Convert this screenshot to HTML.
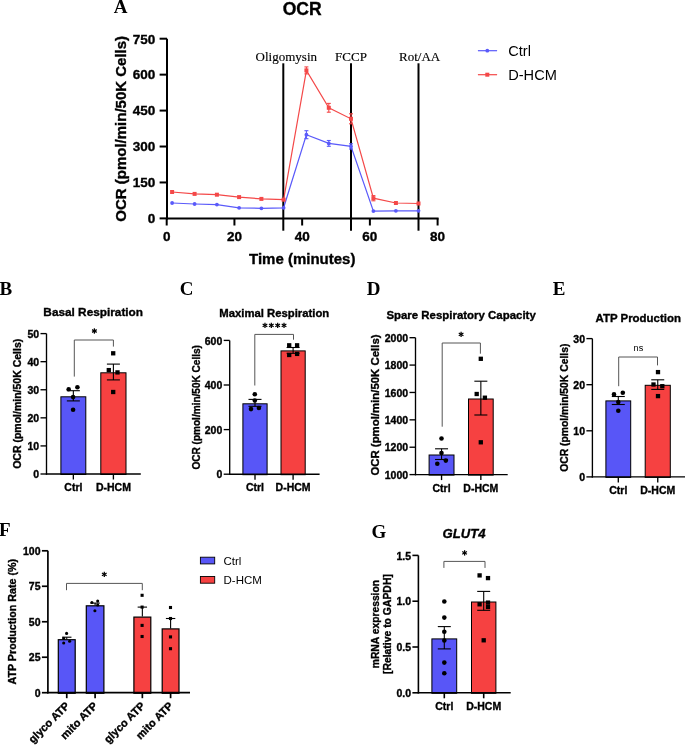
<!DOCTYPE html>
<html><head><meta charset="utf-8"><style>
html,body{margin:0;padding:0;background:#fff;}
body{width:685px;height:746px;overflow:hidden;}
svg{display:block;will-change:transform;}
</style></head><body>
<svg width="685" height="746" viewBox="0 0 685 746">
<rect width="685" height="746" fill="#fff"/>
<line x1="167" y1="38.7" x2="167" y2="219.4" stroke="#000" stroke-width="2"/>
<line x1="166" y1="218.4" x2="438.6" y2="218.4" stroke="#000" stroke-width="2"/>
<line x1="159.6" y1="218.4" x2="167" y2="218.4" stroke="#000" stroke-width="2"/>
<text x="155.2" y="223.2" text-anchor="end" style='font-family:"Liberation Sans", sans-serif;font-size:13.5px;font-weight:bold;font-style:normal;stroke:#000;stroke-width:0.35px'>0</text>
<line x1="159.6" y1="182.46" x2="167" y2="182.46" stroke="#000" stroke-width="2"/>
<text x="155.2" y="187.26" text-anchor="end" style='font-family:"Liberation Sans", sans-serif;font-size:13.5px;font-weight:bold;font-style:normal;stroke:#000;stroke-width:0.35px'>150</text>
<line x1="159.6" y1="146.52" x2="167" y2="146.52" stroke="#000" stroke-width="2"/>
<text x="155.2" y="151.32" text-anchor="end" style='font-family:"Liberation Sans", sans-serif;font-size:13.5px;font-weight:bold;font-style:normal;stroke:#000;stroke-width:0.35px'>300</text>
<line x1="159.6" y1="110.58" x2="167" y2="110.58" stroke="#000" stroke-width="2"/>
<text x="155.2" y="115.38" text-anchor="end" style='font-family:"Liberation Sans", sans-serif;font-size:13.5px;font-weight:bold;font-style:normal;stroke:#000;stroke-width:0.35px'>450</text>
<line x1="159.6" y1="74.64" x2="167" y2="74.64" stroke="#000" stroke-width="2"/>
<text x="155.2" y="79.44" text-anchor="end" style='font-family:"Liberation Sans", sans-serif;font-size:13.5px;font-weight:bold;font-style:normal;stroke:#000;stroke-width:0.35px'>600</text>
<line x1="159.6" y1="38.7" x2="167" y2="38.7" stroke="#000" stroke-width="2"/>
<text x="155.2" y="43.5" text-anchor="end" style='font-family:"Liberation Sans", sans-serif;font-size:13.5px;font-weight:bold;font-style:normal;stroke:#000;stroke-width:0.35px'>750</text>
<line x1="166.7" y1="218.4" x2="166.7" y2="225.5" stroke="#000" stroke-width="2"/>
<text x="166.7" y="241" text-anchor="middle" style='font-family:"Liberation Sans", sans-serif;font-size:13.5px;font-weight:bold;font-style:normal;stroke:#000;stroke-width:0.35px'>0</text>
<line x1="234.43" y1="218.4" x2="234.43" y2="225.5" stroke="#000" stroke-width="2"/>
<text x="234.43" y="241" text-anchor="middle" style='font-family:"Liberation Sans", sans-serif;font-size:13.5px;font-weight:bold;font-style:normal;stroke:#000;stroke-width:0.35px'>20</text>
<line x1="302.15" y1="218.4" x2="302.15" y2="225.5" stroke="#000" stroke-width="2"/>
<text x="302.15" y="241" text-anchor="middle" style='font-family:"Liberation Sans", sans-serif;font-size:13.5px;font-weight:bold;font-style:normal;stroke:#000;stroke-width:0.35px'>40</text>
<line x1="369.88" y1="218.4" x2="369.88" y2="225.5" stroke="#000" stroke-width="2"/>
<text x="369.88" y="241" text-anchor="middle" style='font-family:"Liberation Sans", sans-serif;font-size:13.5px;font-weight:bold;font-style:normal;stroke:#000;stroke-width:0.35px'>60</text>
<line x1="437.6" y1="218.4" x2="437.6" y2="225.5" stroke="#000" stroke-width="2"/>
<text x="437.6" y="241" text-anchor="middle" style='font-family:"Liberation Sans", sans-serif;font-size:13.5px;font-weight:bold;font-style:normal;stroke:#000;stroke-width:0.35px'>80</text>
<line x1="283.3" y1="63.3" x2="283.3" y2="230.7" stroke="#000" stroke-width="2"/>
<line x1="351" y1="63.3" x2="351" y2="230.7" stroke="#000" stroke-width="2"/>
<line x1="418.5" y1="63.3" x2="418.5" y2="230.7" stroke="#000" stroke-width="2"/>
<text x="286.3" y="61.2" text-anchor="middle" style='font-family:"Liberation Serif", serif;font-size:13px;font-weight:normal;font-style:normal;stroke:#000;stroke-width:0.15px'>Oligomysin</text>
<text x="351" y="61.2" text-anchor="middle" style='font-family:"Liberation Serif", serif;font-size:13px;font-weight:normal;font-style:normal;stroke:#000;stroke-width:0.15px'>FCCP</text>
<text x="419.6" y="61.2" text-anchor="middle" style='font-family:"Liberation Serif", serif;font-size:13px;font-weight:normal;font-style:normal;stroke:#000;stroke-width:0.15px'>Rot/AA</text>
<text x="302.2" y="15" text-anchor="middle" style='font-family:"Liberation Sans", sans-serif;font-size:17.5px;font-weight:bold;font-style:normal;stroke:#000;stroke-width:0.35px'>OCR</text>
<text x="302.2" y="263.6" text-anchor="middle" style='font-family:"Liberation Sans", sans-serif;font-size:15px;font-weight:bold;font-style:normal;stroke:#000;stroke-width:0.35px'>Time (minutes)</text>
<text transform="translate(126.2,128.85) rotate(-90)" text-anchor="middle" style='font-family:"Liberation Sans", sans-serif;font-size:15px;font-weight:bold;font-style:normal;stroke:#000;stroke-width:0.35px'>OCR (pmol/min/50K Cells)</text>
<text x="113.8" y="12.8" text-anchor="start" style='font-family:"Liberation Serif", serif;font-size:19px;font-weight:bold;font-style:normal'>A</text>
<polyline points="172.1,192 194.6,193.9 216.9,194.7 239.1,197.1 261.4,198.9 283.6,199.7 306.4,70.4 328.8,107.8 351,118.8 373.4,198.2 395.9,203 418.5,203.5" fill="none" stroke="#F44848" stroke-width="1.2"/>
<polyline points="172.1,203 194.6,204 216.9,204.6 239.1,207.8 261.4,208.3 283.6,207.8 306.4,134.7 328.8,143.4 351,146.4 373.4,211.1 395.9,210.8 418.5,210.8" fill="none" stroke="#5A5AFA" stroke-width="1.2"/>
<rect x="170.1" y="190" width="4" height="4" fill="#F44848"/>
<rect x="192.6" y="191.9" width="4" height="4" fill="#F44848"/>
<rect x="214.9" y="192.7" width="4" height="4" fill="#F44848"/>
<rect x="237.1" y="195.1" width="4" height="4" fill="#F44848"/>
<rect x="259.4" y="196.9" width="4" height="4" fill="#F44848"/>
<rect x="281.6" y="197.7" width="4" height="4" fill="#F44848"/>
<line x1="306.4" y1="66.9" x2="306.4" y2="73.9" stroke="#F44848" stroke-width="1.1"/>
<line x1="304.4" y1="66.9" x2="308.4" y2="66.9" stroke="#F44848" stroke-width="1.1"/>
<line x1="304.4" y1="73.9" x2="308.4" y2="73.9" stroke="#F44848" stroke-width="1.1"/>
<rect x="304.4" y="68.4" width="4" height="4" fill="#F44848"/>
<line x1="328.8" y1="103.4" x2="328.8" y2="112.2" stroke="#F44848" stroke-width="1.1"/>
<line x1="326.8" y1="103.4" x2="330.8" y2="103.4" stroke="#F44848" stroke-width="1.1"/>
<line x1="326.8" y1="112.2" x2="330.8" y2="112.2" stroke="#F44848" stroke-width="1.1"/>
<rect x="326.8" y="105.8" width="4" height="4" fill="#F44848"/>
<line x1="351" y1="113.8" x2="351" y2="123.8" stroke="#F44848" stroke-width="1.1"/>
<line x1="349" y1="113.8" x2="353" y2="113.8" stroke="#F44848" stroke-width="1.1"/>
<line x1="349" y1="123.8" x2="353" y2="123.8" stroke="#F44848" stroke-width="1.1"/>
<rect x="349" y="116.8" width="4" height="4" fill="#F44848"/>
<line x1="373.4" y1="195.6" x2="373.4" y2="200.8" stroke="#F44848" stroke-width="1.1"/>
<line x1="371.4" y1="195.6" x2="375.4" y2="195.6" stroke="#F44848" stroke-width="1.1"/>
<line x1="371.4" y1="200.8" x2="375.4" y2="200.8" stroke="#F44848" stroke-width="1.1"/>
<rect x="371.4" y="196.2" width="4" height="4" fill="#F44848"/>
<rect x="393.9" y="201" width="4" height="4" fill="#F44848"/>
<rect x="416.5" y="201.5" width="4" height="4" fill="#F44848"/>
<circle cx="172.1" cy="203" r="1.9" fill="#5A5AFA"/>
<circle cx="194.6" cy="204" r="1.9" fill="#5A5AFA"/>
<circle cx="216.9" cy="204.6" r="1.9" fill="#5A5AFA"/>
<circle cx="239.1" cy="207.8" r="1.9" fill="#5A5AFA"/>
<circle cx="261.4" cy="208.3" r="1.9" fill="#5A5AFA"/>
<circle cx="283.6" cy="207.8" r="1.9" fill="#5A5AFA"/>
<line x1="306.4" y1="130.7" x2="306.4" y2="138.7" stroke="#5A5AFA" stroke-width="1.1"/>
<line x1="304.4" y1="130.7" x2="308.4" y2="130.7" stroke="#5A5AFA" stroke-width="1.1"/>
<line x1="304.4" y1="138.7" x2="308.4" y2="138.7" stroke="#5A5AFA" stroke-width="1.1"/>
<circle cx="306.4" cy="134.7" r="1.9" fill="#5A5AFA"/>
<line x1="328.8" y1="140.5" x2="328.8" y2="146.3" stroke="#5A5AFA" stroke-width="1.1"/>
<line x1="326.8" y1="140.5" x2="330.8" y2="140.5" stroke="#5A5AFA" stroke-width="1.1"/>
<line x1="326.8" y1="146.3" x2="330.8" y2="146.3" stroke="#5A5AFA" stroke-width="1.1"/>
<circle cx="328.8" cy="143.4" r="1.9" fill="#5A5AFA"/>
<line x1="351" y1="143.8" x2="351" y2="149" stroke="#5A5AFA" stroke-width="1.1"/>
<line x1="349" y1="143.8" x2="353" y2="143.8" stroke="#5A5AFA" stroke-width="1.1"/>
<line x1="349" y1="149" x2="353" y2="149" stroke="#5A5AFA" stroke-width="1.1"/>
<circle cx="351" cy="146.4" r="1.9" fill="#5A5AFA"/>
<circle cx="373.4" cy="211.1" r="1.9" fill="#5A5AFA"/>
<circle cx="395.9" cy="210.8" r="1.9" fill="#5A5AFA"/>
<circle cx="418.5" cy="210.8" r="1.9" fill="#5A5AFA"/>
<line x1="477.9" y1="50.7" x2="497.1" y2="50.7" stroke="#5A5AFA" stroke-width="1.2"/>
<circle cx="487.3" cy="50.7" r="1.9" fill="#5A5AFA"/>
<line x1="477.9" y1="74.7" x2="497.1" y2="74.7" stroke="#F44848" stroke-width="1.2"/>
<rect x="485.3" y="72.7" width="4" height="4" fill="#F44848"/>
<text x="508.2" y="55.9" text-anchor="start" style='font-family:"Liberation Sans", sans-serif;font-size:14.6px;font-weight:normal;font-style:normal'>Ctrl</text>
<text x="508.2" y="79.9" text-anchor="start" style='font-family:"Liberation Sans", sans-serif;font-size:14.6px;font-weight:normal;font-style:normal'>D-HCM</text>
<rect x="60.9" y="396.8" width="24.9" height="77.7" fill="#5856F7" stroke="#000" stroke-width="1"/>
<rect x="100.8" y="372.8" width="25.2" height="101.7" fill="#F64141" stroke="#000" stroke-width="1"/>
<line x1="46.5" y1="333.6" x2="46.5" y2="474.7" stroke="#000" stroke-width="1.35"/>
<line x1="45.9" y1="474" x2="140.8" y2="474" stroke="#000" stroke-width="1.35"/>
<line x1="40.5" y1="474" x2="46.5" y2="474" stroke="#000" stroke-width="1.35"/>
<text x="39.1" y="478.1" text-anchor="end" style='font-family:"Liberation Sans", sans-serif;font-size:10.5px;font-weight:bold;font-style:normal;stroke:#000;stroke-width:0.35px'>0</text>
<line x1="40.5" y1="445.92" x2="46.5" y2="445.92" stroke="#000" stroke-width="1.35"/>
<text x="39.1" y="450.02" text-anchor="end" style='font-family:"Liberation Sans", sans-serif;font-size:10.5px;font-weight:bold;font-style:normal;stroke:#000;stroke-width:0.35px'>10</text>
<line x1="40.5" y1="417.84" x2="46.5" y2="417.84" stroke="#000" stroke-width="1.35"/>
<text x="39.1" y="421.94" text-anchor="end" style='font-family:"Liberation Sans", sans-serif;font-size:10.5px;font-weight:bold;font-style:normal;stroke:#000;stroke-width:0.35px'>20</text>
<line x1="40.5" y1="389.76" x2="46.5" y2="389.76" stroke="#000" stroke-width="1.35"/>
<text x="39.1" y="393.86" text-anchor="end" style='font-family:"Liberation Sans", sans-serif;font-size:10.5px;font-weight:bold;font-style:normal;stroke:#000;stroke-width:0.35px'>30</text>
<line x1="40.5" y1="361.68" x2="46.5" y2="361.68" stroke="#000" stroke-width="1.35"/>
<text x="39.1" y="365.78" text-anchor="end" style='font-family:"Liberation Sans", sans-serif;font-size:10.5px;font-weight:bold;font-style:normal;stroke:#000;stroke-width:0.35px'>40</text>
<line x1="40.5" y1="333.6" x2="46.5" y2="333.6" stroke="#000" stroke-width="1.35"/>
<text x="39.1" y="337.7" text-anchor="end" style='font-family:"Liberation Sans", sans-serif;font-size:10.5px;font-weight:bold;font-style:normal;stroke:#000;stroke-width:0.35px'>50</text>
<line x1="73.35" y1="474" x2="73.35" y2="479.5" stroke="#000" stroke-width="1.35"/>
<line x1="113.4" y1="474" x2="113.4" y2="479.5" stroke="#000" stroke-width="1.35"/>
<text x="73.35" y="491.4" text-anchor="middle" style='font-family:"Liberation Sans", sans-serif;font-size:10.5px;font-weight:bold;font-style:normal;stroke:#000;stroke-width:0.35px'>Ctrl</text>
<text x="113.4" y="491.4" text-anchor="middle" style='font-family:"Liberation Sans", sans-serif;font-size:10.5px;font-weight:bold;font-style:normal;stroke:#000;stroke-width:0.35px'>D-HCM</text>
<line x1="73.35" y1="390.7" x2="73.35" y2="400.9" stroke="#000" stroke-width="1.1"/>
<line x1="66.85" y1="390.7" x2="79.85" y2="390.7" stroke="#000" stroke-width="1.1"/>
<line x1="66.85" y1="400.9" x2="79.85" y2="400.9" stroke="#000" stroke-width="1.1"/>
<circle cx="68.7" cy="389.2" r="2.3" fill="#000"/>
<circle cx="77.4" cy="387.2" r="2.3" fill="#000"/>
<circle cx="73.1" cy="397.1" r="2.3" fill="#000"/>
<circle cx="73.1" cy="409.8" r="2.3" fill="#000"/>
<line x1="113.4" y1="364.1" x2="113.4" y2="379.9" stroke="#000" stroke-width="1.1"/>
<line x1="106.9" y1="364.1" x2="119.9" y2="364.1" stroke="#000" stroke-width="1.1"/>
<line x1="106.9" y1="379.9" x2="119.9" y2="379.9" stroke="#000" stroke-width="1.1"/>
<rect x="111.05" y="351.15" width="4.3" height="4.3" fill="#000"/>
<rect x="106.65" y="367.95" width="4.3" height="4.3" fill="#000"/>
<rect x="115.35" y="370.25" width="4.3" height="4.3" fill="#000"/>
<rect x="111.05" y="389.85" width="4.3" height="4.3" fill="#000"/>
<polyline points="74.3,376.6 74.3,340 113.4,340 113.4,346.6" fill="none" stroke="#555" stroke-width="1"/>
<line x1="94.4" y1="328.3" x2="94.4" y2="333.7" stroke="#000" stroke-width="1.25"/>
<line x1="92.06" y1="329.65" x2="96.74" y2="332.35" stroke="#000" stroke-width="1.25"/>
<line x1="96.74" y1="329.65" x2="92.06" y2="332.35" stroke="#000" stroke-width="1.25"/>
<text x="93.2" y="316.3" text-anchor="middle" style='font-family:"Liberation Sans", sans-serif;font-size:11.8px;font-weight:bold;font-style:normal;stroke:#000;stroke-width:0.35px'>Basal Respiration</text>
<text transform="translate(21.1,403.8) rotate(-90)" text-anchor="middle" style='font-family:"Liberation Sans", sans-serif;font-size:10.5px;font-weight:bold;font-style:normal;stroke:#000;stroke-width:0.35px'>OCR (pmol/min/50K Cells)</text>
<text x="-0.5" y="294.8" text-anchor="start" style='font-family:"Liberation Serif", serif;font-size:19px;font-weight:bold;font-style:normal'>B</text>
<rect x="242.9" y="403.8" width="24.2" height="70.9" fill="#5856F7" stroke="#000" stroke-width="1"/>
<rect x="281" y="350.9" width="24.2" height="123.8" fill="#F64141" stroke="#000" stroke-width="1"/>
<line x1="229.7" y1="340.4" x2="229.7" y2="474.9" stroke="#000" stroke-width="1.35"/>
<line x1="229.1" y1="474.2" x2="319.6" y2="474.2" stroke="#000" stroke-width="1.35"/>
<line x1="223.7" y1="474.2" x2="229.7" y2="474.2" stroke="#000" stroke-width="1.35"/>
<text x="222.3" y="478.3" text-anchor="end" style='font-family:"Liberation Sans", sans-serif;font-size:10.5px;font-weight:bold;font-style:normal;stroke:#000;stroke-width:0.35px'>0</text>
<line x1="223.7" y1="429.6" x2="229.7" y2="429.6" stroke="#000" stroke-width="1.35"/>
<text x="222.3" y="433.69" text-anchor="end" style='font-family:"Liberation Sans", sans-serif;font-size:10.5px;font-weight:bold;font-style:normal;stroke:#000;stroke-width:0.35px'>200</text>
<line x1="223.7" y1="385" x2="229.7" y2="385" stroke="#000" stroke-width="1.35"/>
<text x="222.3" y="389.1" text-anchor="end" style='font-family:"Liberation Sans", sans-serif;font-size:10.5px;font-weight:bold;font-style:normal;stroke:#000;stroke-width:0.35px'>400</text>
<line x1="223.7" y1="340.4" x2="229.7" y2="340.4" stroke="#000" stroke-width="1.35"/>
<text x="222.3" y="344.5" text-anchor="end" style='font-family:"Liberation Sans", sans-serif;font-size:10.5px;font-weight:bold;font-style:normal;stroke:#000;stroke-width:0.35px'>600</text>
<line x1="255" y1="474.2" x2="255" y2="479.7" stroke="#000" stroke-width="1.35"/>
<line x1="293.1" y1="474.2" x2="293.1" y2="479.7" stroke="#000" stroke-width="1.35"/>
<text x="255" y="491.4" text-anchor="middle" style='font-family:"Liberation Sans", sans-serif;font-size:10.5px;font-weight:bold;font-style:normal;stroke:#000;stroke-width:0.35px'>Ctrl</text>
<text x="293.1" y="491.4" text-anchor="middle" style='font-family:"Liberation Sans", sans-serif;font-size:10.5px;font-weight:bold;font-style:normal;stroke:#000;stroke-width:0.35px'>D-HCM</text>
<line x1="255" y1="399.4" x2="255" y2="406.3" stroke="#000" stroke-width="1.1"/>
<line x1="248.5" y1="399.4" x2="261.5" y2="399.4" stroke="#000" stroke-width="1.1"/>
<line x1="248.5" y1="406.3" x2="261.5" y2="406.3" stroke="#000" stroke-width="1.1"/>
<circle cx="254.8" cy="394.2" r="2.3" fill="#000"/>
<circle cx="254.8" cy="400.5" r="2.3" fill="#000"/>
<circle cx="251" cy="409.1" r="2.3" fill="#000"/>
<circle cx="258.9" cy="408" r="2.3" fill="#000"/>
<line x1="293.1" y1="347.5" x2="293.1" y2="353.3" stroke="#000" stroke-width="1.1"/>
<line x1="286.6" y1="347.5" x2="299.6" y2="347.5" stroke="#000" stroke-width="1.1"/>
<line x1="286.6" y1="353.3" x2="299.6" y2="353.3" stroke="#000" stroke-width="1.1"/>
<rect x="287.05" y="343.15" width="4.3" height="4.3" fill="#000"/>
<rect x="294.95" y="343.15" width="4.3" height="4.3" fill="#000"/>
<rect x="287.05" y="352.85" width="4.3" height="4.3" fill="#000"/>
<rect x="294.95" y="351.75" width="4.3" height="4.3" fill="#000"/>
<polyline points="254.8,385.5 254.8,334.4 293.5,334.4 293.5,339.7" fill="none" stroke="#555" stroke-width="1"/>
<line x1="264.98" y1="322.7" x2="264.98" y2="328.1" stroke="#000" stroke-width="1.25"/>
<line x1="262.64" y1="324.05" x2="267.31" y2="326.75" stroke="#000" stroke-width="1.25"/>
<line x1="267.31" y1="324.05" x2="262.64" y2="326.75" stroke="#000" stroke-width="1.25"/>
<line x1="271.32" y1="322.7" x2="271.32" y2="328.1" stroke="#000" stroke-width="1.25"/>
<line x1="268.99" y1="324.05" x2="273.66" y2="326.75" stroke="#000" stroke-width="1.25"/>
<line x1="273.66" y1="324.05" x2="268.99" y2="326.75" stroke="#000" stroke-width="1.25"/>
<line x1="277.68" y1="322.7" x2="277.68" y2="328.1" stroke="#000" stroke-width="1.25"/>
<line x1="275.34" y1="324.05" x2="280.01" y2="326.75" stroke="#000" stroke-width="1.25"/>
<line x1="280.01" y1="324.05" x2="275.34" y2="326.75" stroke="#000" stroke-width="1.25"/>
<line x1="284.02" y1="322.7" x2="284.02" y2="328.1" stroke="#000" stroke-width="1.25"/>
<line x1="281.69" y1="324.05" x2="286.36" y2="326.75" stroke="#000" stroke-width="1.25"/>
<line x1="286.36" y1="324.05" x2="281.69" y2="326.75" stroke="#000" stroke-width="1.25"/>
<text x="274.3" y="316.9" text-anchor="middle" style='font-family:"Liberation Sans", sans-serif;font-size:11.3px;font-weight:bold;font-style:normal;stroke:#000;stroke-width:0.35px'>Maximal Respiration</text>
<text transform="translate(200.1,407.3) rotate(-90)" text-anchor="middle" style='font-family:"Liberation Sans", sans-serif;font-size:10.05px;font-weight:bold;font-style:normal;stroke:#000;stroke-width:0.35px'>OCR (pmol/min/50K Cells)</text>
<text x="179.8" y="294.9" text-anchor="start" style='font-family:"Liberation Serif", serif;font-size:19px;font-weight:bold;font-style:normal'>C</text>
<rect x="429.1" y="455" width="24.9" height="20.1" fill="#5856F7" stroke="#000" stroke-width="1"/>
<rect x="468.5" y="399" width="24.7" height="76.1" fill="#F64141" stroke="#000" stroke-width="1"/>
<line x1="415.5" y1="337.7" x2="415.5" y2="475.3" stroke="#000" stroke-width="1.35"/>
<line x1="414.9" y1="474.6" x2="507.7" y2="474.6" stroke="#000" stroke-width="1.35"/>
<line x1="409.5" y1="474.6" x2="415.5" y2="474.6" stroke="#000" stroke-width="1.35"/>
<text x="408.1" y="478.7" text-anchor="end" style='font-family:"Liberation Sans", sans-serif;font-size:10.5px;font-weight:bold;font-style:normal;stroke:#000;stroke-width:0.35px'>1000</text>
<line x1="409.5" y1="447.22" x2="415.5" y2="447.22" stroke="#000" stroke-width="1.35"/>
<text x="408.1" y="451.32" text-anchor="end" style='font-family:"Liberation Sans", sans-serif;font-size:10.5px;font-weight:bold;font-style:normal;stroke:#000;stroke-width:0.35px'>1200</text>
<line x1="409.5" y1="419.84" x2="415.5" y2="419.84" stroke="#000" stroke-width="1.35"/>
<text x="408.1" y="423.94" text-anchor="end" style='font-family:"Liberation Sans", sans-serif;font-size:10.5px;font-weight:bold;font-style:normal;stroke:#000;stroke-width:0.35px'>1400</text>
<line x1="409.5" y1="392.46" x2="415.5" y2="392.46" stroke="#000" stroke-width="1.35"/>
<text x="408.1" y="396.56" text-anchor="end" style='font-family:"Liberation Sans", sans-serif;font-size:10.5px;font-weight:bold;font-style:normal;stroke:#000;stroke-width:0.35px'>1600</text>
<line x1="409.5" y1="365.08" x2="415.5" y2="365.08" stroke="#000" stroke-width="1.35"/>
<text x="408.1" y="369.18" text-anchor="end" style='font-family:"Liberation Sans", sans-serif;font-size:10.5px;font-weight:bold;font-style:normal;stroke:#000;stroke-width:0.35px'>1800</text>
<line x1="409.5" y1="337.7" x2="415.5" y2="337.7" stroke="#000" stroke-width="1.35"/>
<text x="408.1" y="341.8" text-anchor="end" style='font-family:"Liberation Sans", sans-serif;font-size:10.5px;font-weight:bold;font-style:normal;stroke:#000;stroke-width:0.35px'>2000</text>
<line x1="441.55" y1="474.6" x2="441.55" y2="480.1" stroke="#000" stroke-width="1.35"/>
<line x1="480.85" y1="474.6" x2="480.85" y2="480.1" stroke="#000" stroke-width="1.35"/>
<text x="441.55" y="491.8" text-anchor="middle" style='font-family:"Liberation Sans", sans-serif;font-size:10.5px;font-weight:bold;font-style:normal;stroke:#000;stroke-width:0.35px'>Ctrl</text>
<text x="480.85" y="491.8" text-anchor="middle" style='font-family:"Liberation Sans", sans-serif;font-size:10.5px;font-weight:bold;font-style:normal;stroke:#000;stroke-width:0.35px'>D-HCM</text>
<line x1="441.55" y1="448.8" x2="441.55" y2="459.5" stroke="#000" stroke-width="1.1"/>
<line x1="435.05" y1="448.8" x2="448.05" y2="448.8" stroke="#000" stroke-width="1.1"/>
<line x1="435.05" y1="459.5" x2="448.05" y2="459.5" stroke="#000" stroke-width="1.1"/>
<circle cx="441.5" cy="438.5" r="2.3" fill="#000"/>
<circle cx="441.5" cy="453" r="2.3" fill="#000"/>
<circle cx="437.3" cy="463.8" r="2.3" fill="#000"/>
<circle cx="445.8" cy="460.6" r="2.3" fill="#000"/>
<line x1="480.85" y1="381.2" x2="480.85" y2="415" stroke="#000" stroke-width="1.1"/>
<line x1="474.35" y1="381.2" x2="487.35" y2="381.2" stroke="#000" stroke-width="1.1"/>
<line x1="474.35" y1="415" x2="487.35" y2="415" stroke="#000" stroke-width="1.1"/>
<rect x="478.65" y="356.65" width="4.3" height="4.3" fill="#000"/>
<rect x="474.55" y="391.85" width="4.3" height="4.3" fill="#000"/>
<rect x="482.75" y="395.55" width="4.3" height="4.3" fill="#000"/>
<rect x="478.65" y="440.15" width="4.3" height="4.3" fill="#000"/>
<polyline points="442.2,426.7 442.2,343 480.4,343 480.4,353.7" fill="none" stroke="#555" stroke-width="1"/>
<line x1="461.1" y1="331.7" x2="461.1" y2="337.1" stroke="#000" stroke-width="1.25"/>
<line x1="458.76" y1="333.05" x2="463.44" y2="335.75" stroke="#000" stroke-width="1.25"/>
<line x1="463.44" y1="333.05" x2="458.76" y2="335.75" stroke="#000" stroke-width="1.25"/>
<text x="461.1" y="319.3" text-anchor="middle" style='font-family:"Liberation Sans", sans-serif;font-size:11.45px;font-weight:bold;font-style:normal;stroke:#000;stroke-width:0.35px'>Spare Respiratory Capacity</text>
<text transform="translate(378.9,405.05) rotate(-90)" text-anchor="middle" style='font-family:"Liberation Sans", sans-serif;font-size:11.4px;font-weight:bold;font-style:normal;stroke:#000;stroke-width:0.35px'>OCR (pmol/min/50K Cells)</text>
<text x="366.8" y="294.8" text-anchor="start" style='font-family:"Liberation Serif", serif;font-size:19px;font-weight:bold;font-style:normal'>D</text>
<rect x="605.9" y="400.9" width="24.8" height="76.5" fill="#5856F7" stroke="#000" stroke-width="1"/>
<rect x="645.2" y="385.3" width="25.1" height="92.1" fill="#F64141" stroke="#000" stroke-width="1"/>
<line x1="592.4" y1="338.6" x2="592.4" y2="477.6" stroke="#000" stroke-width="1.35"/>
<line x1="591.8" y1="476.9" x2="686" y2="476.9" stroke="#000" stroke-width="1.35"/>
<line x1="586.4" y1="476.9" x2="592.4" y2="476.9" stroke="#000" stroke-width="1.35"/>
<text x="585" y="481" text-anchor="end" style='font-family:"Liberation Sans", sans-serif;font-size:10.5px;font-weight:bold;font-style:normal;stroke:#000;stroke-width:0.35px'>0</text>
<line x1="586.4" y1="430.8" x2="592.4" y2="430.8" stroke="#000" stroke-width="1.35"/>
<text x="585" y="434.9" text-anchor="end" style='font-family:"Liberation Sans", sans-serif;font-size:10.5px;font-weight:bold;font-style:normal;stroke:#000;stroke-width:0.35px'>10</text>
<line x1="586.4" y1="384.7" x2="592.4" y2="384.7" stroke="#000" stroke-width="1.35"/>
<text x="585" y="388.8" text-anchor="end" style='font-family:"Liberation Sans", sans-serif;font-size:10.5px;font-weight:bold;font-style:normal;stroke:#000;stroke-width:0.35px'>20</text>
<line x1="586.4" y1="338.6" x2="592.4" y2="338.6" stroke="#000" stroke-width="1.35"/>
<text x="585" y="342.7" text-anchor="end" style='font-family:"Liberation Sans", sans-serif;font-size:10.5px;font-weight:bold;font-style:normal;stroke:#000;stroke-width:0.35px'>30</text>
<line x1="618.3" y1="476.9" x2="618.3" y2="482.4" stroke="#000" stroke-width="1.35"/>
<line x1="657.75" y1="476.9" x2="657.75" y2="482.4" stroke="#000" stroke-width="1.35"/>
<text x="618.3" y="494.2" text-anchor="middle" style='font-family:"Liberation Sans", sans-serif;font-size:10.5px;font-weight:bold;font-style:normal;stroke:#000;stroke-width:0.35px'>Ctrl</text>
<text x="657.75" y="494.2" text-anchor="middle" style='font-family:"Liberation Sans", sans-serif;font-size:10.5px;font-weight:bold;font-style:normal;stroke:#000;stroke-width:0.35px'>D-HCM</text>
<line x1="618.3" y1="396.5" x2="618.3" y2="404.5" stroke="#000" stroke-width="1.1"/>
<line x1="611.8" y1="396.5" x2="624.8" y2="396.5" stroke="#000" stroke-width="1.1"/>
<line x1="611.8" y1="404.5" x2="624.8" y2="404.5" stroke="#000" stroke-width="1.1"/>
<circle cx="614" cy="394.4" r="2.3" fill="#000"/>
<circle cx="622.8" cy="392.7" r="2.3" fill="#000"/>
<circle cx="618.3" cy="402.1" r="2.3" fill="#000"/>
<circle cx="618.3" cy="410.7" r="2.3" fill="#000"/>
<line x1="657.75" y1="379.8" x2="657.75" y2="389.4" stroke="#000" stroke-width="1.1"/>
<line x1="651.25" y1="379.8" x2="664.25" y2="379.8" stroke="#000" stroke-width="1.1"/>
<line x1="651.25" y1="389.4" x2="664.25" y2="389.4" stroke="#000" stroke-width="1.1"/>
<rect x="655.85" y="369.95" width="4.3" height="4.3" fill="#000"/>
<rect x="651.35" y="382.35" width="4.3" height="4.3" fill="#000"/>
<rect x="660.15" y="384.05" width="4.3" height="4.3" fill="#000"/>
<rect x="655.85" y="393.95" width="4.3" height="4.3" fill="#000"/>
<polyline points="618.7,386.2 618.7,357 657.5,357 657.5,365.4" fill="none" stroke="#555" stroke-width="1"/>
<text x="638.4" y="351.1" text-anchor="middle" style='font-family:"Liberation Sans", sans-serif;font-size:9.2px;font-weight:normal;font-style:normal'>ns</text>
<text x="638.2" y="321.5" text-anchor="middle" style='font-family:"Liberation Sans", sans-serif;font-size:11.45px;font-weight:bold;font-style:normal;stroke:#000;stroke-width:0.35px'>ATP Production</text>
<text transform="translate(567.7,407.75) rotate(-90)" text-anchor="middle" style='font-family:"Liberation Sans", sans-serif;font-size:10.35px;font-weight:bold;font-style:normal;stroke:#000;stroke-width:0.35px'>OCR (pmol/min/50K Cells)</text>
<text x="552.8" y="294.8" text-anchor="start" style='font-family:"Liberation Serif", serif;font-size:19px;font-weight:bold;font-style:normal'>E</text>
<rect x="58.3" y="639.7" width="16.9" height="53.6" fill="#5856F7" stroke="#000" stroke-width="1.2"/>
<rect x="86.3" y="605.8" width="17.6" height="87.5" fill="#5856F7" stroke="#000" stroke-width="1.2"/>
<rect x="133.9" y="617.1" width="16.9" height="76.2" fill="#F64141" stroke="#000" stroke-width="1.2"/>
<rect x="162.2" y="628.9" width="16.8" height="64.4" fill="#F64141" stroke="#000" stroke-width="1.2"/>
<line x1="47.9" y1="550.8" x2="47.9" y2="693.4" stroke="#000" stroke-width="1.7"/>
<line x1="47.3" y1="692.7" x2="190" y2="692.7" stroke="#000" stroke-width="1.7"/>
<line x1="41.9" y1="692.7" x2="47.9" y2="692.7" stroke="#000" stroke-width="1.7"/>
<text x="40.5" y="696.8" text-anchor="end" style='font-family:"Liberation Sans", sans-serif;font-size:10.5px;font-weight:bold;font-style:normal;stroke:#000;stroke-width:0.35px'>0</text>
<line x1="41.9" y1="657.23" x2="47.9" y2="657.23" stroke="#000" stroke-width="1.7"/>
<text x="40.5" y="661.32" text-anchor="end" style='font-family:"Liberation Sans", sans-serif;font-size:10.5px;font-weight:bold;font-style:normal;stroke:#000;stroke-width:0.35px'>25</text>
<line x1="41.9" y1="621.75" x2="47.9" y2="621.75" stroke="#000" stroke-width="1.7"/>
<text x="40.5" y="625.85" text-anchor="end" style='font-family:"Liberation Sans", sans-serif;font-size:10.5px;font-weight:bold;font-style:normal;stroke:#000;stroke-width:0.35px'>50</text>
<line x1="41.9" y1="586.27" x2="47.9" y2="586.27" stroke="#000" stroke-width="1.7"/>
<text x="40.5" y="590.37" text-anchor="end" style='font-family:"Liberation Sans", sans-serif;font-size:10.5px;font-weight:bold;font-style:normal;stroke:#000;stroke-width:0.35px'>75</text>
<line x1="41.9" y1="550.8" x2="47.9" y2="550.8" stroke="#000" stroke-width="1.7"/>
<text x="40.5" y="554.89" text-anchor="end" style='font-family:"Liberation Sans", sans-serif;font-size:10.5px;font-weight:bold;font-style:normal;stroke:#000;stroke-width:0.35px'>100</text>
<line x1="66.75" y1="692.7" x2="66.75" y2="698.2" stroke="#000" stroke-width="1.7"/>
<line x1="95.1" y1="692.7" x2="95.1" y2="698.2" stroke="#000" stroke-width="1.7"/>
<line x1="142.35" y1="692.7" x2="142.35" y2="698.2" stroke="#000" stroke-width="1.7"/>
<line x1="170.6" y1="692.7" x2="170.6" y2="698.2" stroke="#000" stroke-width="1.7"/>
<line x1="66.75" y1="637.2" x2="66.75" y2="639.3" stroke="#000" stroke-width="1.1"/>
<line x1="62.05" y1="637.2" x2="71.45" y2="637.2" stroke="#000" stroke-width="1.1"/>
<circle cx="66.6" cy="633.4" r="1.55" fill="#000"/>
<circle cx="63.7" cy="638.4" r="1.55" fill="#000"/>
<circle cx="63.7" cy="643" r="1.55" fill="#000"/>
<circle cx="69.6" cy="641.2" r="1.55" fill="#000"/>
<line x1="95.1" y1="603.1" x2="95.1" y2="605.2" stroke="#000" stroke-width="1.1"/>
<line x1="90.4" y1="603.1" x2="99.8" y2="603.1" stroke="#000" stroke-width="1.1"/>
<circle cx="91.9" cy="602.5" r="1.55" fill="#000"/>
<circle cx="97.7" cy="601.1" r="1.55" fill="#000"/>
<circle cx="97.7" cy="605" r="1.55" fill="#000"/>
<circle cx="94.9" cy="610.7" r="1.55" fill="#000"/>
<line x1="142.35" y1="607.1" x2="142.35" y2="616.5" stroke="#000" stroke-width="1.1"/>
<line x1="137.65" y1="607.1" x2="147.05" y2="607.1" stroke="#000" stroke-width="1.1"/>
<rect x="140.55" y="593.75" width="3.1" height="3.1" fill="#000"/>
<rect x="140.55" y="605.55" width="3.1" height="3.1" fill="#000"/>
<rect x="140.55" y="623.85" width="3.1" height="3.1" fill="#000"/>
<rect x="140.55" y="634.95" width="3.1" height="3.1" fill="#000"/>
<line x1="170.6" y1="618.5" x2="170.6" y2="628.4" stroke="#000" stroke-width="1.1"/>
<line x1="165.9" y1="618.5" x2="175.3" y2="618.5" stroke="#000" stroke-width="1.1"/>
<rect x="168.95" y="605.95" width="3.1" height="3.1" fill="#000"/>
<rect x="168.95" y="616.95" width="3.1" height="3.1" fill="#000"/>
<rect x="168.95" y="635.35" width="3.1" height="3.1" fill="#000"/>
<rect x="168.95" y="647.15" width="3.1" height="3.1" fill="#000"/>
<polyline points="66.5,590.2 66.5,583.4 142.3,583.4 142.3,590.2" fill="none" stroke="#555" stroke-width="1"/>
<line x1="104.3" y1="571.7" x2="104.3" y2="577.1" stroke="#000" stroke-width="1.25"/>
<line x1="101.96" y1="573.05" x2="106.64" y2="575.75" stroke="#000" stroke-width="1.25"/>
<line x1="106.64" y1="573.05" x2="101.96" y2="575.75" stroke="#000" stroke-width="1.25"/>
<text transform="translate(16,621.75) rotate(-90)" text-anchor="middle" style='font-family:"Liberation Sans", sans-serif;font-size:10.7px;font-weight:bold;font-style:normal;stroke:#000;stroke-width:0.35px'>ATP Production Rate (%)</text>
<text x="-1" y="536" text-anchor="start" style='font-family:"Liberation Serif", serif;font-size:19px;font-weight:bold;font-style:normal'>F</text>
<text transform="translate(70.2,706.6) rotate(-45)" text-anchor="end" style='font-family:"Liberation Sans", sans-serif;font-size:11px;font-weight:bold;font-style:normal;stroke:#000;stroke-width:0.35px'>glyco ATP</text>
<text transform="translate(98.3,706.6) rotate(-45)" text-anchor="end" style='font-family:"Liberation Sans", sans-serif;font-size:11px;font-weight:bold;font-style:normal;stroke:#000;stroke-width:0.35px'>mito ATP</text>
<text transform="translate(145.6,706.6) rotate(-45)" text-anchor="end" style='font-family:"Liberation Sans", sans-serif;font-size:11px;font-weight:bold;font-style:normal;stroke:#000;stroke-width:0.35px'>glyco ATP</text>
<text transform="translate(173.7,706.6) rotate(-45)" text-anchor="end" style='font-family:"Liberation Sans", sans-serif;font-size:11px;font-weight:bold;font-style:normal;stroke:#000;stroke-width:0.35px'>mito ATP</text>
<rect x="200.4" y="557.2" width="14.3" height="6.7" fill="#5856F7" stroke="#000" stroke-width="0.9"/>
<rect x="200.4" y="576.5" width="14.3" height="6.7" fill="#F64141" stroke="#000" stroke-width="0.9"/>
<text x="223.5" y="564.7" text-anchor="start" style='font-family:"Liberation Sans", sans-serif;font-size:11.5px;font-weight:normal;font-style:normal'>Ctrl</text>
<text x="223.5" y="584" text-anchor="start" style='font-family:"Liberation Sans", sans-serif;font-size:11.5px;font-weight:normal;font-style:normal'>D-HCM</text>
<rect x="431.9" y="638.9" width="24.8" height="54.4" fill="#5856F7" stroke="#000" stroke-width="1"/>
<rect x="471.5" y="602" width="24.4" height="91.3" fill="#F64141" stroke="#000" stroke-width="1"/>
<line x1="418.4" y1="555.4" x2="418.4" y2="693.5" stroke="#000" stroke-width="1.6"/>
<line x1="417.8" y1="692.8" x2="510.7" y2="692.8" stroke="#000" stroke-width="1.6"/>
<line x1="412.4" y1="692.8" x2="418.4" y2="692.8" stroke="#000" stroke-width="1.6"/>
<text x="411" y="696.89" text-anchor="end" style='font-family:"Liberation Sans", sans-serif;font-size:10.5px;font-weight:bold;font-style:normal;stroke:#000;stroke-width:0.35px'>0.0</text>
<line x1="412.4" y1="647" x2="418.4" y2="647" stroke="#000" stroke-width="1.6"/>
<text x="411" y="651.1" text-anchor="end" style='font-family:"Liberation Sans", sans-serif;font-size:10.5px;font-weight:bold;font-style:normal;stroke:#000;stroke-width:0.35px'>0.5</text>
<line x1="412.4" y1="601.2" x2="418.4" y2="601.2" stroke="#000" stroke-width="1.6"/>
<text x="411" y="605.29" text-anchor="end" style='font-family:"Liberation Sans", sans-serif;font-size:10.5px;font-weight:bold;font-style:normal;stroke:#000;stroke-width:0.35px'>1.0</text>
<line x1="412.4" y1="555.4" x2="418.4" y2="555.4" stroke="#000" stroke-width="1.6"/>
<text x="411" y="559.5" text-anchor="end" style='font-family:"Liberation Sans", sans-serif;font-size:10.5px;font-weight:bold;font-style:normal;stroke:#000;stroke-width:0.35px'>1.5</text>
<line x1="444.3" y1="692.8" x2="444.3" y2="698.3" stroke="#000" stroke-width="1.6"/>
<line x1="483.7" y1="692.8" x2="483.7" y2="698.3" stroke="#000" stroke-width="1.6"/>
<text x="444.3" y="709.9" text-anchor="middle" style='font-family:"Liberation Sans", sans-serif;font-size:10.5px;font-weight:bold;font-style:normal;stroke:#000;stroke-width:0.35px'>Ctrl</text>
<text x="483.7" y="709.9" text-anchor="middle" style='font-family:"Liberation Sans", sans-serif;font-size:10.5px;font-weight:bold;font-style:normal;stroke:#000;stroke-width:0.35px'>D-HCM</text>
<line x1="444.3" y1="626.6" x2="444.3" y2="648.9" stroke="#000" stroke-width="1.1"/>
<line x1="437.8" y1="626.6" x2="450.8" y2="626.6" stroke="#000" stroke-width="1.1"/>
<line x1="437.8" y1="648.9" x2="450.8" y2="648.9" stroke="#000" stroke-width="1.1"/>
<circle cx="444.3" cy="601.5" r="2.3" fill="#000"/>
<circle cx="444.3" cy="617.6" r="2.3" fill="#000"/>
<circle cx="444.3" cy="631.7" r="2.3" fill="#000"/>
<circle cx="444.3" cy="640.5" r="2.3" fill="#000"/>
<circle cx="444.3" cy="662.6" r="2.3" fill="#000"/>
<circle cx="444.3" cy="673.3" r="2.3" fill="#000"/>
<line x1="483.7" y1="591.4" x2="483.7" y2="610.3" stroke="#000" stroke-width="1.1"/>
<line x1="477.2" y1="591.4" x2="490.2" y2="591.4" stroke="#000" stroke-width="1.1"/>
<line x1="477.2" y1="610.3" x2="490.2" y2="610.3" stroke="#000" stroke-width="1.1"/>
<rect x="477.45" y="573.25" width="4.3" height="4.3" fill="#000"/>
<rect x="485.85" y="575.95" width="4.3" height="4.3" fill="#000"/>
<rect x="477.45" y="602.15" width="4.3" height="4.3" fill="#000"/>
<rect x="485.85" y="600.45" width="4.3" height="4.3" fill="#000"/>
<rect x="485.85" y="604.75" width="4.3" height="4.3" fill="#000"/>
<rect x="481.55" y="638.15" width="4.3" height="4.3" fill="#000"/>
<polyline points="443.9,567.9 443.9,561.4 485,561.4 485,567.9" fill="none" stroke="#555" stroke-width="1"/>
<line x1="464.6" y1="550.2" x2="464.6" y2="555.6" stroke="#000" stroke-width="1.25"/>
<line x1="462.26" y1="551.55" x2="466.94" y2="554.25" stroke="#000" stroke-width="1.25"/>
<line x1="466.94" y1="551.55" x2="462.26" y2="554.25" stroke="#000" stroke-width="1.25"/>
<text x="464" y="537.9" text-anchor="middle" style='font-family:"Liberation Sans", sans-serif;font-size:13.1px;font-weight:bold;font-style:italic;stroke:#000;stroke-width:0.35px'>GLUT4</text>
<text transform="translate(379,624.1) rotate(-90)" text-anchor="middle" style='font-family:"Liberation Sans", sans-serif;font-size:10.3px;font-weight:bold;font-style:normal;stroke:#000;stroke-width:0.35px'>mRNA expression</text>
<text transform="translate(390.8,624.1) rotate(-90)" text-anchor="middle" style='font-family:"Liberation Sans", sans-serif;font-size:10.4px;font-weight:bold;font-style:normal;stroke:#000;stroke-width:0.35px'>[Relative to GAPDH]</text>
<text x="371.5" y="537.6" text-anchor="start" style='font-family:"Liberation Serif", serif;font-size:19px;font-weight:bold;font-style:normal'>G</text>
</svg>
</body></html>
